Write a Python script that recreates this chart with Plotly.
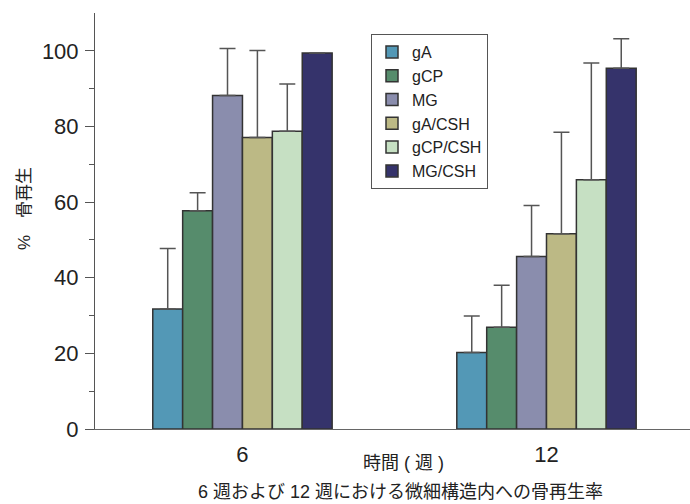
import plotly.graph_objects as go

weeks = ["6", "12"]
series = ["gA", "gCP", "MG", "gA/CSH", "gCP/CSH", "MG/CSH"]
colors = ["#5398b6", "#568c6c", "#8a8dad", "#bcb985", "#c6e0c3", "#35336b"]
val_6 = [31.7, 57.7, 88.2, 77.1, 78.7, 99.4]
val_12 = [20.2, 26.9, 45.6, 51.6, 65.9, 95.4]
err_6 = [16.0, 4.8, 12.4, 23.0, 12.5, None]
err_12 = [9.7, 11.1, 13.5, 26.9, 30.9, 7.8]

y_title = "%　骨再生"
x_title = "時間 ( 週 )"
caption = "6 週および 12 週における微細構造内への骨再生率"

LAT = "Liberation Sans, Arial, Helvetica, sans-serif"
CJK = "Liberation Sans, Noto Sans CJK JP, sans-serif"

ML, MR, MT, MB = 95, 0, 13, 75
W, H = 690, 504

fig = go.Figure()
for i, name in enumerate(series):
    fig.add_trace(go.Bar(
        name=name,
        x=[0, 1],
        y=[val_6[i], val_12[i]],
        marker=dict(color=colors[i], line=dict(color="#333333", width=1.5)),
        error_y=dict(type="data", symmetric=False,
                     array=[err_6[i], err_12[i]], arrayminus=[0, 0],
                     color="#555555", thickness=1.5, width=8),
    ))


def px_to_paper(x, y):
    return (x - ML) / (W - ML - MR), (H - MB - y) / (H - MT - MB)


def ann(text, x, y, size, angle=0):
    px, py = px_to_paper(x, y)
    return dict(text=text, x=px, y=py, xref="paper", yref="paper", showarrow=False,
                xanchor="center", yanchor="middle", textangle=angle,
                font=dict(size=size, family=CJK, color="#222222"))


lx, ly = px_to_paper(371, 34)
fig.update_layout(
    width=W, height=H,
    margin=dict(l=ML, r=MR, t=MT, b=MB),
    paper_bgcolor="white", plot_bgcolor="white",
    barmode="group", bargap=0.41, bargroupgap=0,
    font=dict(family=LAT, color="#222222"),
    showlegend=True,
    legend=dict(x=lx, y=ly, xanchor="left", yanchor="top",
                bordercolor="#555555", borderwidth=1, bgcolor="white",
                font=dict(size=16, family=LAT, color="#222222"),
                entrywidth=98, entrywidthmode="pixels",
                tracegroupgap=0),
    xaxis=dict(range=[-0.485, 1.472], tickmode="array", tickvals=[0, 1],
               ticktext=weeks, showline=True, linecolor="#666666", linewidth=1,
               ticks="", showgrid=False, zeroline=False, automargin=False,
               ticklabelstandoff=6,
               tickfont=dict(size=22, family=LAT, color="#222222")),
    yaxis=dict(range=[0, 110], tickmode="array", tickvals=[0, 20, 40, 60, 80, 100],
               showline=True, linecolor="#555555", linewidth=1,
               ticks="outside", ticklen=9, tickcolor="#555555", tickwidth=1,
               minor=dict(tickmode="array", tickvals=[10, 30, 50, 70, 90],
                          ticks="outside", ticklen=5, tickcolor="#555555", tickwidth=1),
               showgrid=False, zeroline=False, automargin=False,
               ticklabelstandoff=2,
               tickfont=dict(size=22, family=LAT, color="#222222")),
    annotations=[
        ann(y_title, 24, 209, 17, -90),
        ann(x_title, 403, 463, 18),
        ann(caption, 401, 492, 18),
    ],
)

fig.write_html("out.html", config={"displayModeBar": False},
               post_script="document.body.style.margin='0';")
